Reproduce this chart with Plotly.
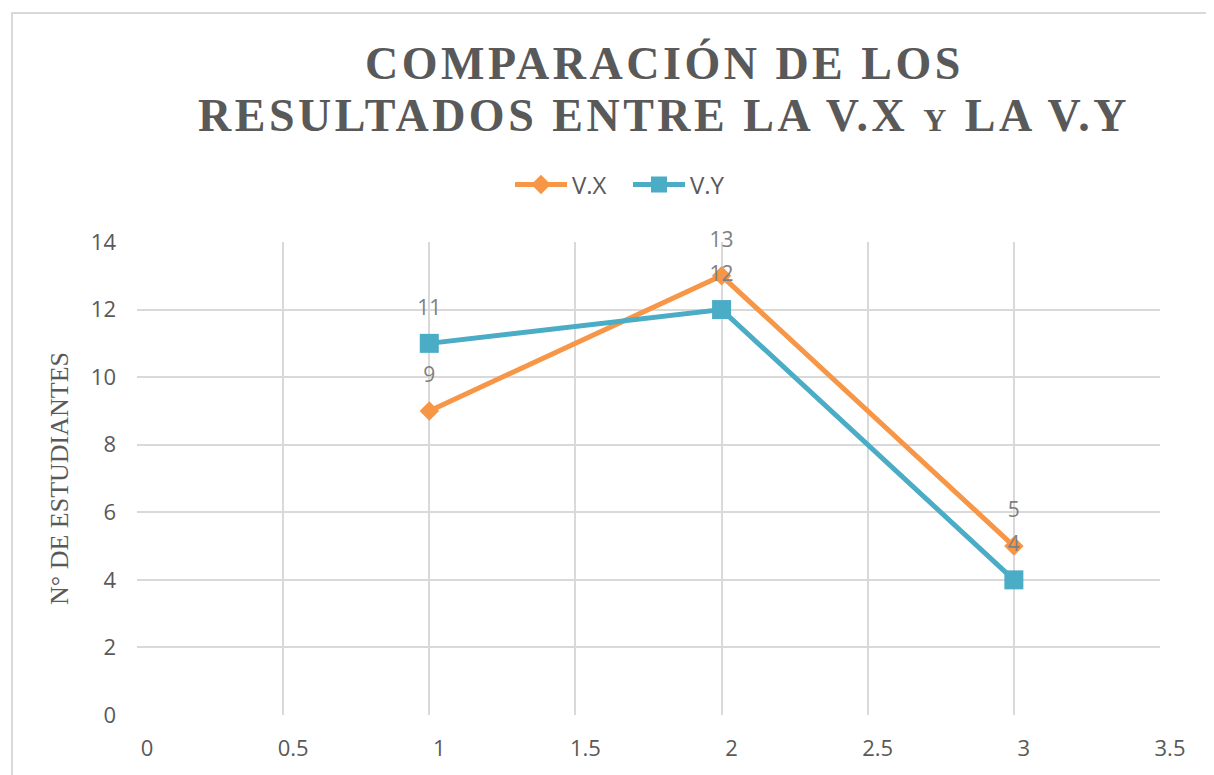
import plotly.graph_objects as go

# Data
x_vals = [1, 2, 3]
vx_values = [9, 13, 5]
vy_values = [11, 12, 4]
series_names = ["V.X", "V.Y"]
x_ticks = [0, 0.5, 1, 1.5, 2, 2.5, 3, 3.5]
x_tick_labels = ["0", "0.5", "1", "1.5", "2", "2.5", "3", "3.5"]
y_ticks = [0, 2, 4, 6, 8, 10, 12, 14]
title_line1 = "COMPARACIÓN DE LOS"
title_line2 = "RESULTADOS ENTRE LA V.X y LA V.Y"
y_title = "N° DE ESTUDIANTES"

ORANGE = "#F79646"
TEAL = "#4BACC6"
GRID = "#D9D9D9"
TXT = "#595959"
LBL = "#7F7F7F"

OFF = 8  # page body margin
W, H = 1214 - OFF, 775 - OFF
ML, MR, MT, MB = 137 - OFF, 54, 242 - OFF, 60
PW, PH = W - ML - MR, H - MT - MB

def px_to_paper_x(px):
    return (px - OFF - ML) / PW

def px_to_paper_y(py):
    return (H - MB - (py - OFF)) / PH

fig = go.Figure()
fig.add_trace(go.Scatter(
    x=x_vals, y=vx_values, name=series_names[0], mode="lines+markers",
    line=dict(color=ORANGE, width=5),
    marker=dict(symbol="diamond", size=15, color=ORANGE),
    cliponaxis=False,
))
fig.add_trace(go.Scatter(
    x=x_vals, y=vy_values, name=series_names[1], mode="lines+markers",
    line=dict(color=TEAL, width=5),
    marker=dict(symbol="square", size=19, color=TEAL),
    cliponaxis=False,
))
# data labels (invisible markers set the label offset)
for vals in (vx_values, vy_values):
    fig.add_trace(go.Scatter(
        x=x_vals, y=vals, mode="markers+text", showlegend=False, hoverinfo="skip",
        marker=dict(size=36, color="rgba(0,0,0,0)"),
        text=[str(v) for v in vals], textposition="top center",
        textfont=dict(family="Open Sans", size=21, color=LBL),
        cliponaxis=False,
    ))

title_style = "letter-spacing:3.5px"
title_font = dict(family="Liberation Serif", size=46, color=TXT, weight="bold",
                  variant="small-caps")

fig.update_layout(
    width=W, height=H,
    margin=dict(l=ML, r=MR, t=MT, b=MB, autoexpand=False),
    paper_bgcolor="white", plot_bgcolor="white",
    showlegend=True,
    legend=dict(orientation="h", x=px_to_paper_x(510), y=px_to_paper_y(185),
                xanchor="left", yanchor="middle",
                font=dict(family="Open Sans", size=24, color=TXT),
                itemwidth=52, entrywidth=51, bgcolor="rgba(0,0,0,0)"),
    xaxis=dict(range=[0, 3.5], tickvals=x_ticks, ticktext=x_tick_labels,
               showgrid=True, gridcolor=GRID, gridwidth=2, zeroline=False,
               showline=False, ticks="", ticklabelstandoff=18, ticklabelshift=10,
               tickfont=dict(family="Open Sans", size=22, color=TXT),
               fixedrange=True),
    yaxis=dict(range=[0, 14], tickvals=y_ticks,
               showgrid=True, gridcolor=GRID, gridwidth=2, zeroline=False,
               showline=False, ticks="", ticklabelstandoff=20,
               tickfont=dict(family="Open Sans", size=22, color=TXT),
               title=dict(text=y_title, standoff=14,
                          font=dict(family="Liberation Serif", size=26, color=TXT)),
               fixedrange=True),
    shapes=[dict(type="rect", xref="paper", yref="paper",
                 x0=px_to_paper_x(12), x1=px_to_paper_x(1220),
                 y0=px_to_paper_y(785), y1=px_to_paper_y(13),
                 line=dict(color=GRID, width=2), fillcolor="rgba(0,0,0,0)", layer="below")],
    annotations=[
        dict(text=f'<span style="{title_style}">{title_line1}</span>', xref="paper", yref="paper",
             x=px_to_paper_x(664), y=px_to_paper_y(64), xanchor="center", yanchor="middle",
             showarrow=False, font=title_font),
        dict(text=f'<span style="{title_style}">{title_line2}</span>', xref="paper", yref="paper",
             x=px_to_paper_x(664), y=px_to_paper_y(115), xanchor="center", yanchor="middle",
             showarrow=False, font=title_font),
    ],
)

fig.write_html("out.html")
